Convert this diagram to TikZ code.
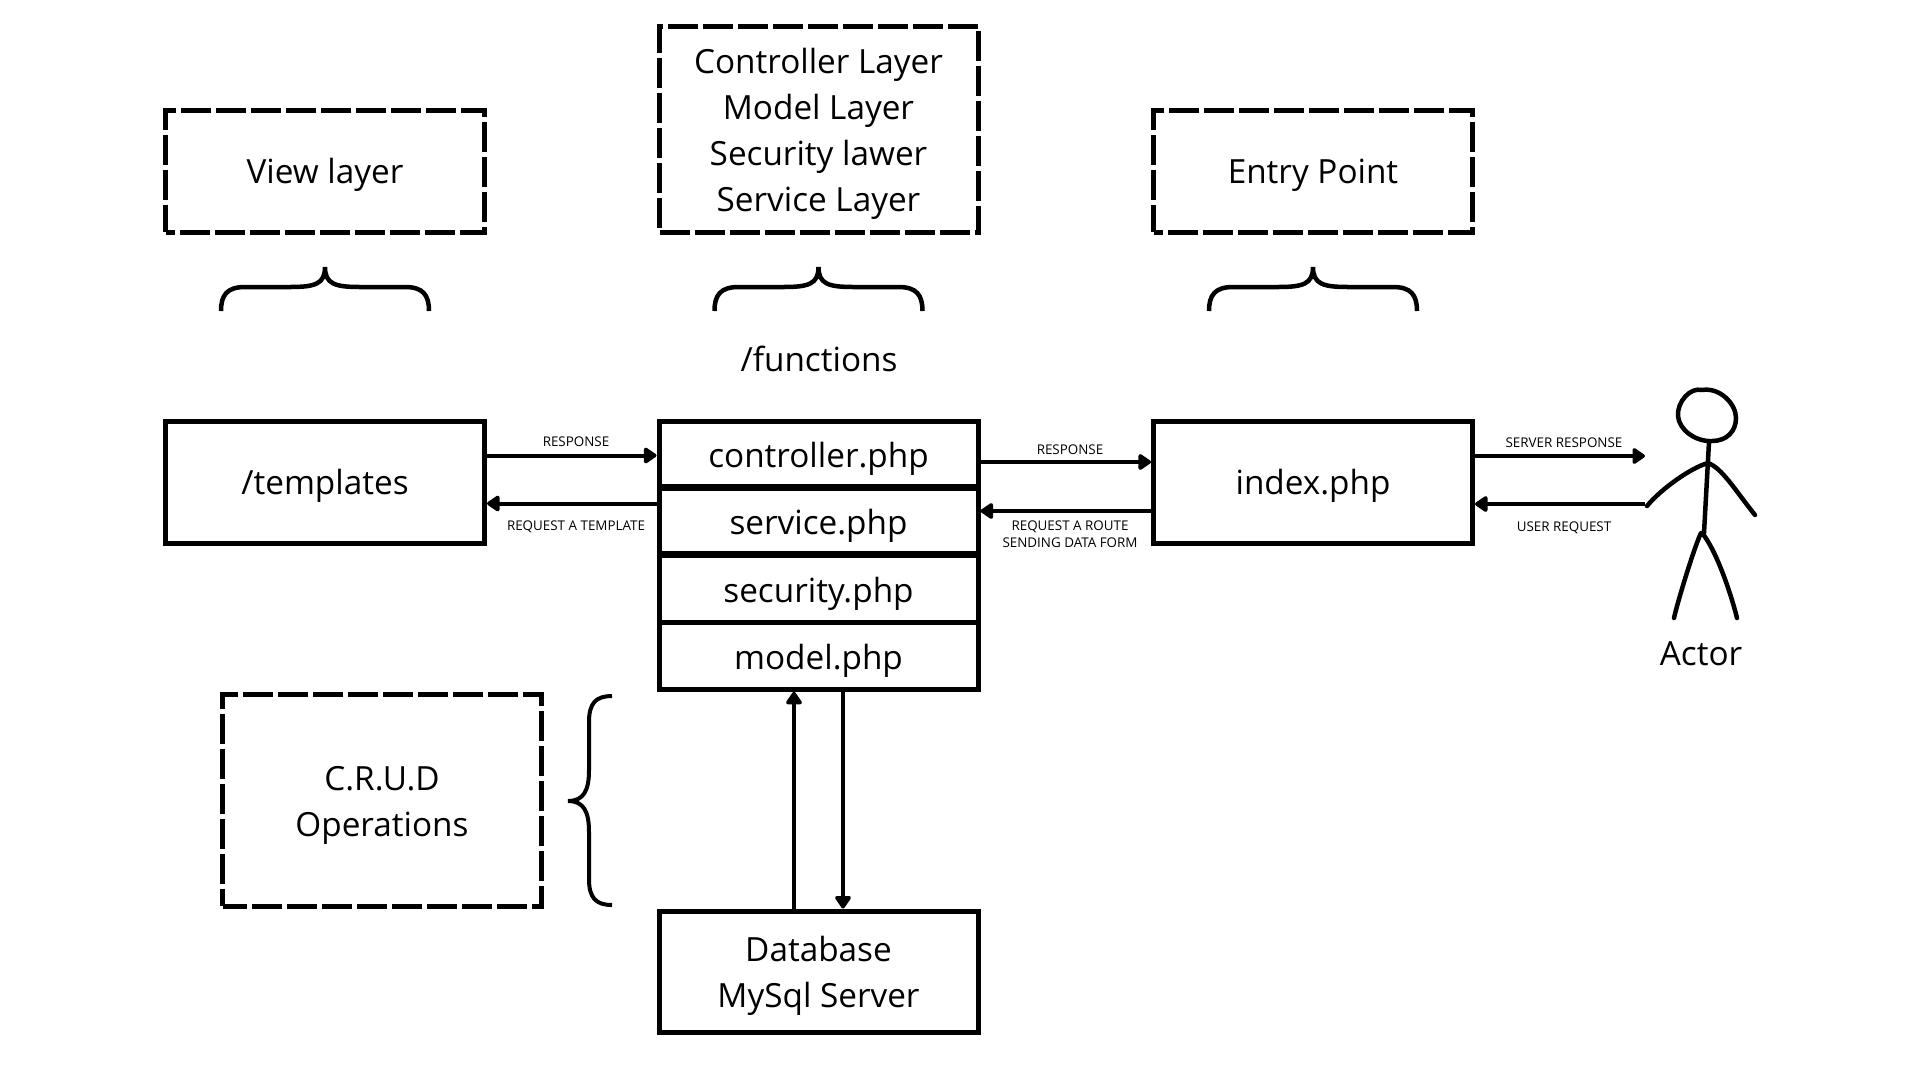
\documentclass[tikz,border=0pt]{standalone}
\usepackage{fontspec}
\setmainfont{Open Sans}
\usetikzlibrary{arrows.meta}
\newcommand{\bigtxt}{\fontsize{33.3}{46}\selectfont}
\newcommand{\smalltxt}{\fontsize{13.4}{17.5}\selectfont}
\newcommand{\strutfix}{\rule[-8pt]{0pt}{40pt}}
\newcommand{\strutcell}{\rule[-8pt]{0pt}{44pt}}
\newcommand{\dn}[2][17.25]{\raisebox{-#1pt}[0pt][0pt]{#2}}
\tikzset{
  solidbox/.style={draw=black,line width=5pt,minimum width=319pt,align=center,inner sep=0pt,font=\bigtxt,
    execute at begin node=\strutfix,execute at end node=\strutfix},
  cellbox/.style={solidbox,execute at begin node=\strutcell},
  dashed box/.style={dash pattern=on 30pt off 5pt,dash phase=#1},
  plain/.style={align=center,inner sep=0pt,font=\bigtxt},
  tiny/.style={align=center,inner sep=0pt,font=\smalltxt},
  arr/.style={line width=4pt,-{Triangle[length=14pt,width=18pt,round]}},
  stick/.style={line width=4.5pt,line cap=round,line join=round},
  brc/.style={line width=4.5pt},
  hbrace/.pic={\draw[brc] (-104,44) .. controls (-104,28) and (-98,20) .. (-80,20) -- (-35,20) .. controls (-10,20) and (0,17) .. (0,0) .. controls (0,17) and (10,20) .. (35,20) -- (80,20) .. controls (98,20) and (104,28) .. (104,44);}
}
\begin{document}
\begin{tikzpicture}[x=1pt,y=-1pt]
\useasboundingbox (0,0) rectangle (1920,1080);
% top dashed boxes
\node[solidbox,dashed box=125.5pt,minimum height=122pt] (view) at (325,171) {View layer};
\node[solidbox,dashed box=209.5pt,minimum height=206pt] (layers) at (818.5,129) {\dn{Controller Layer}\\\dn{Model Layer}\\\dn{Security lawer}\\\dn{Service Layer}};
\node[solidbox,dashed box=125.5pt,minimum height=122pt] (entry) at (1313,171) {Entry Point};
% braces
\pic at (325,267) {hbrace};
\pic at (818.5,267) {hbrace};
\pic at (1313,267) {hbrace};
\node[plain] (func) at (819,359) {/functions};
% main row
\node[solidbox,minimum height=122pt] (tmpl) at (325,482) {/templates};
\node[cellbox,minimum height=65.6pt] (ctrl) at (818.5,453.8) {controller.php};
\node[cellbox,minimum height=65.5pt] (serv) at (818.5,520.75) {service.php};
\node[cellbox,minimum height=67.3pt] (secu) at (818.5,588.65) {security.php};
\node[cellbox,minimum height=67pt] (modl) at (818.5,655.8) {model.php};
\node[solidbox,minimum height=122pt] (index) at (1313,482) {index.php};
\node[solidbox,minimum height=121pt] (db) at (818.5,971.5) {\dn{Database}\\\dn{MySql Server}};
% CRUD
\node[solidbox,dashed box=215.5pt,minimum height=212pt] (crud) at (382,800) {\dn{C.R.U.D}\\\dn{Operations}};
\draw[line width=4pt] (612,696) .. controls (596,696) and (589,703) .. (589,722) -- (589,770) .. controls (589,790) and (584,801) .. (568,801) .. controls (584,801) and (589,812) .. (589,832) -- (589,879) .. controls (589,898) and (596,905) .. (612,905);
% arrows
\draw[arr] ([yshift=26.5pt]tmpl.east) -- ([yshift=-1.7pt]ctrl.west);
\draw[arr] ([yshift=-49.7pt]ctrl.west) -- ([yshift=-21.5pt]tmpl.east);
\draw[arr] ([yshift=-8.2pt]ctrl.east) -- ([yshift=20pt]index.west);
\draw[arr] ([yshift=-29pt]index.west) -- ([yshift=9.75pt]serv.east);
\draw[arr] ([xshift=-24.5pt]db.north) -- ([xshift=-24.5pt]modl.south);
\draw[arr] ([xshift=24.5pt]modl.south) -- ([xshift=24.5pt]db.north);
\coordinate (handup) at (1645,456);
\coordinate (handlow) at (1645,504);
\draw[arr] ([yshift=26pt]index.east) -- (handup);
\draw[arr] (handlow) -- ([yshift=-22pt]index.east);
% labels
\node[tiny] (l1) at (576,442) {RESPONSE};
\node[tiny] (l2) at (576,527) {REQUEST A TEMPLATE};
\node[tiny] (l3) at (1070,449.5) {RESPONSE};
\node[tiny] (l4) at (1070,534) {REQUEST A ROUTE\\SENDING DATA FORM};
\node[tiny] (l5) at (1564,443) {SERVER RESPONSE};
\node[tiny] (l6) at (1564,528) {USER REQUEST};
% actor
\draw[stick] (1702,390) .. controls (1690,387) and (1677,402) .. (1678,416) .. controls (1679,430) and (1696,442) .. (1712,441) .. controls (1727,441) and (1736,431) .. (1736,418) .. controls (1736,404) and (1720,387) .. (1702,390);
\draw[stick] (1709,442) -- (1704,533);
\draw[stick] (1708,463) .. controls (1690,468) and (1660,490) .. (1647,506);
\draw[stick] (1708,463) .. controls (1722,468) and (1735,490) .. (1755,515);
\draw[stick] (1701,533) .. controls (1695,545) and (1678,600) .. (1674,618);
\draw[stick] (1702,533) .. controls (1715,548) and (1730,590) .. (1737,618);
\node[plain] (actor) at (1701,654) {Actor};
\end{tikzpicture}
\end{document}
